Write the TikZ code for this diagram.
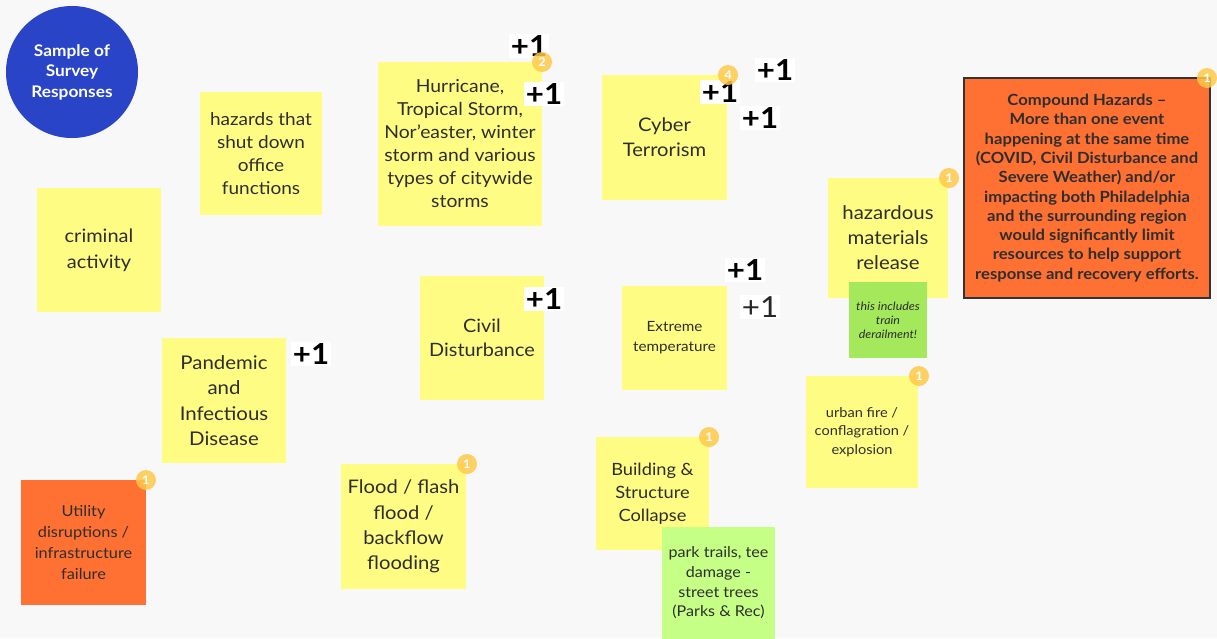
\documentclass[tikz,border=0pt]{standalone}
\usepackage{fontspec}
\setmainfont{Lato}[FakeStretch=1.08]
\definecolor{bg}{HTML}{F8F8F8}
\definecolor{stickyY}{HTML}{FFFC84}
\definecolor{stickyO}{HTML}{FF7033}
\definecolor{stickyG}{HTML}{C6FF86}
\definecolor{stickyG2}{HTML}{A4E85C}
\definecolor{circB}{HTML}{2A44C8}
\definecolor{badgeC}{HTML}{FFC94A}
\definecolor{txt}{HTML}{2E2E2E}
\newcommand{\fs}[2]{\fontsize{#1}{#2}\selectfont}
\tikzset{
  note/.style={rectangle, inner sep=0pt, align=center, text=txt},
  ynote/.style={note, fill=stickyY},
  onote/.style={note, fill=stickyO},
  badge/.style={circle, fill=badgeC, fill opacity=0.85, text opacity=1, text=white, minimum size=20pt, inner sep=0pt, font=\fs{12}{12}\bfseries},
  plusone/.style={fill=white, inner sep=1.5pt, text=black, font=\fs{29}{29}\bfseries},
  plusthin/.style={fill=white, inner sep=1.5pt, text=black!85, font=\fs{29}{29}},
}
\begin{document}
\begin{tikzpicture}[x=1pt,y=-1pt]
\useasboundingbox[fill=bg] (0,0) rectangle (1217,638);

% circle
\node[circle, fill=circB, minimum size=132pt, inner sep=0pt, align=center, text=white, font=\fs{16}{20.5}\bfseries] (title) at (72,72) {Sample of\\Survey\\Responses};

% yellow notes
\node[ynote, minimum width=122pt, minimum height=123pt, font=\fs{17.6}{23}] (office) at (261,153.5) {hazards that\\shut down\\office\\functions};
\node[ynote, minimum width=164pt, minimum height=164pt, font=\fs{17.9}{23}] (hurr) at (460,144) {Hurricane,\\Tropical Storm,\\Nor’easter, winter\\storm and various\\types of citywide\\storms};
\node[ynote, minimum width=125pt, minimum height=125pt, font=\fs{18.7}{25}] (cyber) at (664.5,137.5) {Cyber\\Terrorism};
\node[ynote, minimum width=120pt, minimum height=120pt, font=\fs{18.9}{25}] (hazmat) at (888,238) {hazardous\\materials\\release};
\node[note, fill=stickyG2, minimum width=78pt, minimum height=76pt, font=\fs{11.5}{14}\itshape] (train) at (888,320) {this includes\\train\\derailment!};
\node[ynote, minimum width=124pt, minimum height=124pt, font=\fs{18.5}{26}] (crime) at (99,250) {criminal\\activity};
\node[ynote, minimum width=124pt, minimum height=124pt, font=\fs{18.4}{24.5}] (civil) at (482,338) {Civil\\Disturbance};
\node[ynote, minimum width=105pt, minimum height=104pt, font=\fs{14.1}{20}] (temp) at (674.5,338) {Extreme\\temperature};
\node[ynote, minimum width=124pt, minimum height=125pt, font=\fs{18.9}{25.3}] (pand) at (224,400.5) {Pandemic\\and\\Infectious\\Disease};
\node[ynote, minimum width=125pt, minimum height=125pt, font=\fs{18.7}{25.3}] (flood) at (403.5,526.5) {Flood / flash\\flood /\\backflow\\flooding};
\node[ynote, minimum width=113pt, minimum height=113pt, font=\fs{16.9}{23}] (build) at (652.5,493.5) {Building \&\\Structure\\Collapse};
\node[note, fill=stickyG, minimum width=113pt, minimum height=112pt, font=\fs{14.9}{19.7}] (park) at (718.5,583) {park trails, tee\\damage -\\street trees\\(Parks \& Rec)};
\node[ynote, minimum width=112pt, minimum height=112pt, font=\fs{13.5}{18.5}] (fire) at (862,432) {urban fire /\\conflagration /\\explosion};

% orange notes
\node[onote, minimum width=125pt, minimum height=125pt, font=\fs{15.1}{20.7}] (util) at (83.5,542.5) {Utility\\disruptions /\\infrastructure\\failure};
\node[onote, draw=black!80, line width=2pt, minimum width=246pt, minimum height=220pt, font=\fs{15.4}{19.3}\bfseries] (comp) at (1087,188) {Compound Hazards –\\More than one event\\happening at the same time\\(COVID, Civil Disturbance and\\Severe Weather) and/or\\impacting both Philadelphia\\and the surrounding region\\would significantly limit\\resources to help support\\response and recovery efforts.};

% +1 votes lying under the badges
\node[plusone] (p1) at (529,46) {+1};
\node[plusone] (p3) at (720,92) {+1};

% badges
\node[badge] (b1) at (542,62) {2};
\node[badge] (b2) at (728,75) {4};
\node[badge] (b3) at (1207,78) {1};
\node[badge] (b4) at (949,178) {1};
\node[badge] (b5) at (146,480) {1};
\node[badge] (b6) at (467,464) {1};
\node[badge] (b7) at (709,437) {1};
\node[badge] (b8) at (919,376) {1};

% other +1 votes
\node[plusone] (p2) at (544,94) {+1};
\node[plusone] (p4) at (775,70) {+1};
\node[plusone] (p5) at (760,118) {+1};
\node[plusone] (p6) at (544,299) {+1};
\node[plusone] (p7) at (745,270) {+1};
\node[plusthin] (p8) at (760,307) {+1};
\node[plusone] (p9) at (311,354) {+1};
\end{tikzpicture}
\end{document}
